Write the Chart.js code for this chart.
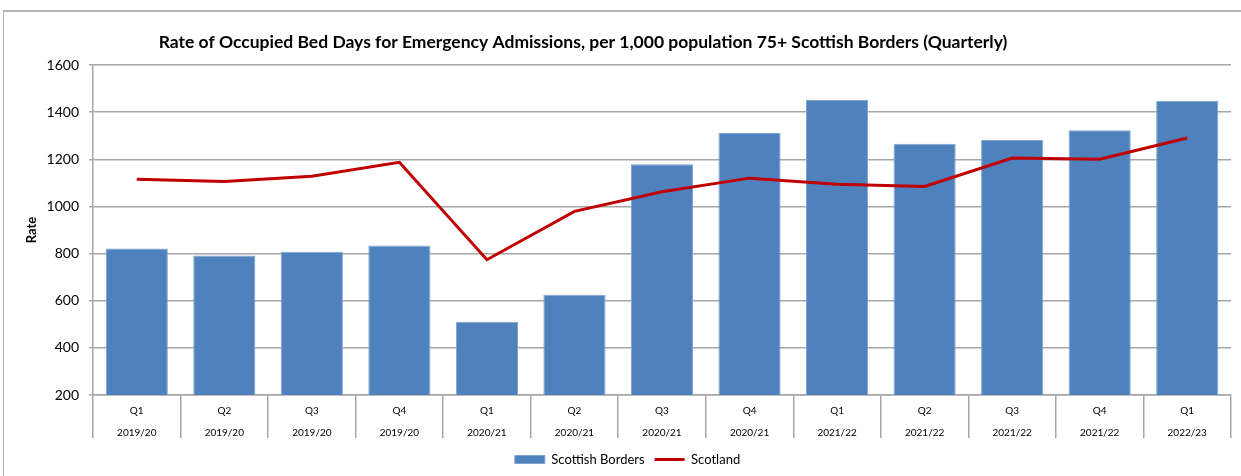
<!DOCTYPE html>
<html lang="en">
<head>
  <meta charset="UTF-8">
  <title>Occupied Bed Days</title>
  <script src="https://cdn.jsdelivr.net/npm/chart.js"></script>
  <style>
    html, body { margin: 0; padding: 0; background: #fff; }
    #wrap { position: relative; width: 1241px; height: 476px; }
    #frame {
      position: absolute; left: 3px; top: 10px; right: 0; bottom: 0;
      border-top: 2px solid #b4b4b4; border-left: 1px solid #b4b4b4;
      pointer-events: none;
    }
  </style>
</head>
<body>
  <div id="wrap">
    <canvas id="myChart" width="1241" height="476"></canvas>
    <div id="frame"></div>
  </div>
  <script>
    var chartTitle = 'Rate of Occupied Bed Days for Emergency Admissions, per 1,000 population 75+ Scottish Borders (Quarterly)';
    var quarters = ['Q1', 'Q2', 'Q3', 'Q4', 'Q1', 'Q2', 'Q3', 'Q4', 'Q1', 'Q2', 'Q3', 'Q4', 'Q1'];
    var years = ['2019/20', '2019/20', '2019/20', '2019/20', '2020/21', '2020/21', '2020/21', '2020/21',
                 '2021/22', '2021/22', '2021/22', '2021/22', '2022/23'];
    var borders = [821, 792, 808, 834, 511, 625, 1179, 1311, 1451, 1266, 1282, 1323, 1448];
    var scotland = [1115, 1106, 1128, 1187, 774, 979, 1062, 1120, 1094, 1085, 1205, 1200, 1290];
    var yTicks = [200, 400, 600, 800, 1000, 1200, 1400, 1600];

    var labels = [];
    for (var i = 0; i < quarters.length; i++) {
      labels.push([quarters[i], years[i]]);
    }

    var gridColor = '#a6a6a6';

    // title sits left of centre in the original, draw it ourselves
    var titlePlugin = {
      id: 'fixedTitle',
      afterDraw: function(chart) {
        var ctx = chart.ctx;
        ctx.save();
        ctx.font = 'bold 17.5px Lato';
        ctx.fillStyle = '#000';
        ctx.textAlign = 'center';
        ctx.textBaseline = 'middle';
        ctx.fillText(chartTitle, 583, 42);
        ctx.restore();
      }
    };

    Chart.defaults.font.family = 'Lato';
    Chart.defaults.color = '#000';

    new Chart(document.getElementById('myChart'), {
      type: 'bar',
      data: {
        labels: labels,
        datasets: [{
          type: 'bar',
          label: 'Scottish Borders',
          data: borders,
          backgroundColor: '#4f81bd',
          borderColor: '#7fa3d0',
          borderWidth: 1,
          barPercentage: 0.71,
          categoryPercentage: 1,
          pointStyle: 'rect',
          order: 1
        }, {
          type: 'line',
          label: 'Scotland',
          data: scotland,
          borderColor: '#c00000',
          backgroundColor: '#c00000',
          borderWidth: 3,
          pointRadius: 0,
          tension: 0,
          pointStyle: 'line',
          order: 0
        }]
      },
      plugins: [titlePlugin],
      options: {
        responsive: false,
        animation: false,
        layout: { padding: { left: 24, right: 10, top: 65, bottom: 0 } },
        plugins: {
          title: { display: false },
          tooltip: { enabled: false },
          legend: {
            position: 'bottom',
            labels: {
              usePointStyle: true,
              pointStyleWidth: 30,
              boxHeight: 8,
              padding: 10,
              color: '#000',
              font: { size: 13 },
              sort: function(a, b) { return a.datasetIndex - b.datasetIndex; }
            }
          }
        },
        scales: {
          x: {
            offset: true,
            grid: {
              offset: true,
              drawOnChartArea: false,
              drawTicks: true,
              tickLength: 43,
              color: gridColor,
              lineWidth: 1.5
            },
            border: { display: true, color: gridColor, width: 1.5 },
            ticks: {
              padding: -38,
              autoSkip: false,
              maxRotation: 0,
              color: '#000',
              font: { size: 10, lineHeight: 2.2 }
            },
            afterFit: function(s) { s.height = 48; }
          },
          y: {
            min: 200,
            max: 1600,
            afterBuildTicks: function(s) {
              s.ticks = yTicks.map(function(v) { return { value: v }; });
            },
            grid: {
              color: gridColor,
              lineWidth: 1.5,
              tickLength: 4
            },
            border: { display: true, color: gridColor, width: 1.5 },
            ticks: {
              padding: 10,
              color: '#000',
              font: { size: 14 },
              callback: function(v) { return String(v); }
            },
            title: {
              display: true,
              text: 'Rate',
              color: '#000',
              font: { size: 13, weight: 'bold' },
              padding: { top: 0, bottom: 0 }
            },
            afterFit: function(s) { s.width = 69; }
          }
        }
      }
    });
  </script>
</body>
</html>
